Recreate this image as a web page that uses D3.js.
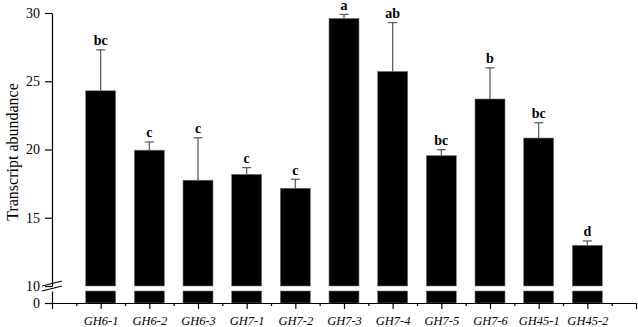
<!DOCTYPE html>
<html>
<head>
<meta charset="utf-8">
<script src="https://cdn.jsdelivr.net/npm/d3@7/dist/d3.min.js"></script>
<style>
body{margin:0;background:#fff;}
svg{display:block;}
.axis path,.axis line{stroke:#000;stroke-width:1.2;}
.axis text{font-family:"Liberation Serif","Times New Roman",serif;font-size:14px;fill:#000;}
</style>
</head>
<body>
<svg id="chart" width="638" height="327"></svg>
<script>
var categories=["GH6-1","GH6-2","GH6-3","GH7-1","GH7-2","GH7-3","GH7-4","GH7-5","GH7-6","GH45-1","GH45-2"];
var means=[24.3,19.95,17.75,18.18,17.16,29.6,25.72,19.55,23.7,20.84,12.98];
var errUp=[27.3,20.55,20.86,18.67,17.82,29.9,29.3,19.99,25.98,21.96,13.3];
var letters=["bc","c","c","c","c","a","ab","bc","b","bc","d"];
var yTicksUpper=[10,15,20,25,30];
var yTicksLower=[0];

var svg=d3.select("#chart");
var x=d3.scaleLinear().domain([0,12]).range([52,636]);
var yUp=d3.scaleLinear().domain([10,30]).range([286,13]);
var yLow=d3.scaleLinear().domain([0,10]).range([303,291]).clamp(true);
var barW=30;

var bars=svg.append("g").selectAll("g").data(categories).enter().append("g");
// upper part of each bar
bars.append("rect")
	.attr("x",(d,i)=>x(i+1)-barW/2)
	.attr("y",(d,i)=>yUp(means[i]))
	.attr("width",barW)
	.attr("height",(d,i)=>yUp(10)-yUp(means[i]))
	.attr("fill","#000").attr("stroke","#777").attr("stroke-width",0.6);
// lower part below the break
bars.append("rect")
	.attr("x",(d,i)=>x(i+1)-barW/2)
	.attr("y",(d,i)=>yLow(means[i]))
	.attr("width",barW)
	.attr("height",(d,i)=>yLow(0)-yLow(means[i]))
	.attr("fill","#000").attr("stroke","#777").attr("stroke-width",0.6);

// error bars (upper only)
bars.append("line")
	.attr("x1",(d,i)=>x(i+1)).attr("x2",(d,i)=>x(i+1))
	.attr("y1",(d,i)=>yUp(means[i])).attr("y2",(d,i)=>yUp(errUp[i]))
	.attr("stroke","#555").attr("stroke-width",1.2);
bars.append("line")
	.attr("x1",(d,i)=>x(i+1)-4.5).attr("x2",(d,i)=>x(i+1)+4.5)
	.attr("y1",(d,i)=>yUp(errUp[i])).attr("y2",(d,i)=>yUp(errUp[i]))
	.attr("stroke","#555").attr("stroke-width",1.2);
bars.append("text")
	.attr("x",(d,i)=>x(i+1))
	.attr("y",(d,i)=>yUp(errUp[i])-4.5)
	.attr("text-anchor","middle")
	.attr("font-family","'Liberation Serif','Times New Roman',serif")
	.attr("font-weight","bold").attr("font-size","14px")
	.text((d,i)=>letters[i]);

// y axes (broken)
svg.append("g").attr("class","axis").attr("transform","translate(52,0)")
	.call(d3.axisLeft(yUp).tickValues(yTicksUpper).tickSize(7).tickSizeOuter(0).tickPadding(5));
svg.append("g").attr("class","axis").attr("transform","translate(52,0)")
	.call(d3.axisLeft(yLow).tickValues(yTicksLower).tickSize(7).tickSizeOuter(0).tickPadding(5));

// break marks
var brk=svg.append("g");
[0,5].forEach(function(o){
	brk.append("line").attr("x1",42).attr("y1",286+o).attr("x2",62).attr("y2",281+o)
		.attr("stroke","#000").attr("stroke-width",1.2);
});

// x axis: minor ticks at half steps, major at integers
svg.append("g").attr("class","axis").attr("transform","translate(0,303)")
	.call(d3.axisBottom(x).tickValues(d3.range(0.5,12,1)).tickSize(3).tickFormat("").tickSizeOuter(0));
svg.append("g").attr("class","axis").attr("transform","translate(0,303)")
	.call(d3.axisBottom(x).tickValues(d3.range(0,13)).tickSize(6).tickSizeOuter(0).tickPadding(7)
		.tickFormat(d=>(d>=1&&d<=11)?categories[d-1]:""))
	.selectAll("text").attr("font-style","italic").style("font-size","12.5px");

svg.append("text")
	.attr("transform","translate(18,152) rotate(-90)")
	.attr("text-anchor","middle")
	.attr("font-family","'Liberation Serif','Times New Roman',serif")
	.attr("font-size","16px")
	.text("Transcript abundance");
</script>
</body>
</html>
